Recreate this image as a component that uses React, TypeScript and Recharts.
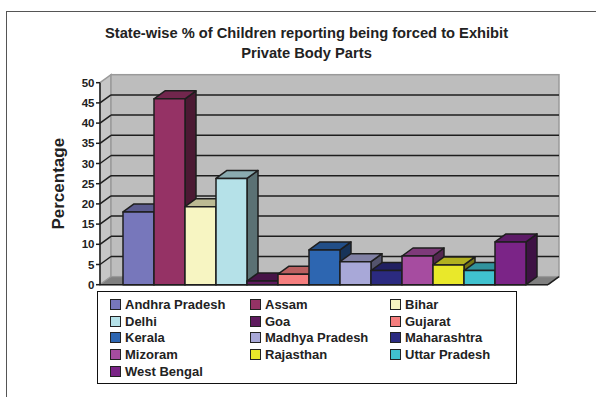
import React from 'react';
import { BarChart, Bar, XAxis, YAxis, Legend, ReferenceArea } from 'recharts';

const states = [
  'Andhra Pradesh', 'Assam', 'Bihar', 'Delhi', 'Goa', 'Gujarat', 'Kerala',
  'Madhya Pradesh', 'Maharashtra', 'Mizoram', 'Rajasthan', 'Uttar Pradesh', 'West Bengal',
];
const percentages = [18, 46, 19.3, 26.3, 0.9, 2.6, 8.6, 5.7, 3.5, 7.1, 4.9, 3.5, 10.6];
const colors = [
  '#7777BB', '#953265', '#F7F5C2', '#B5E1E8', '#5E1A5E', '#F57E7E', '#2D66B1',
  '#A8A8D8', '#2B2A80', '#A64CA0', '#E9E82A', '#40C2CF', '#7B2487',
];
const yTicks = [0, 5, 10, 15, 20, 25, 30, 35, 40, 45, 50];

const chartData = [
  states.reduce<Record<string, number | string>>(
    (row, _s, i) => {
      row[`s${i}`] = percentages[i];
      return row;
    },
    { group: 'States' }
  ),
];

const DX = 11;
const DY = -8;
const FONT = '"Liberation Sans", Arial, Helvetica, sans-serif';

const shade = (hex: string, f: number) => {
  const n = parseInt(hex.slice(1), 16);
  const r = Math.round(((n >> 16) & 255) * f);
  const g = Math.round(((n >> 8) & 255) * f);
  const b = Math.round((n & 255) * f);
  return `rgb(${r},${g},${b})`;
};

const Bar3D = (props: any) => {
  const { x, y, width: w, height: h, fill } = props;
  if (w == null || h == null) return null;
  const stroke = '#1e1e1e';
  return (
    <g strokeLinejoin="round">
      <polygon
        points={`${x + w},${y} ${x + w + DX},${y + DY} ${x + w + DX},${y + h + DY} ${x + w},${y + h}`}
        fill={shade(fill, 0.5)}
        stroke={stroke}
        strokeWidth={1.5}
      />
      <polygon
        points={`${x},${y} ${x + w},${y} ${x + w + DX},${y + DY} ${x + DX},${y + DY}`}
        fill={shade(fill, 0.76)}
        stroke={stroke}
        strokeWidth={1.5}
      />
      <rect x={x} y={y} width={w} height={h} fill={fill} stroke={stroke} strokeWidth={1.5} />
    </g>
  );
};

const Walls = (props: any) => {
  const { x, y, width: w, height: h } = props;
  const max = yTicks[yTicks.length - 1];
  const grid = yTicks.filter((t) => t > 0 && t < max);
  return (
    <g>
      <polygon
        points={`${x},${y} ${x + DX},${y + DY} ${x + DX},${y + h + DY} ${x},${y + h}`}
        fill="#C6C6C6"
        stroke="#9a9a9a"
        strokeWidth={1.5}
      />
      <rect x={x + DX} y={y + DY} width={w} height={h} fill="#BDBDBD" stroke="#9a9a9a" strokeWidth={1.5} />
      {grid.map((t) => {
        const gy = y + h - (t / max) * h;
        return (
          <g key={t} stroke="#1e1e1e" strokeWidth={1.5}>
            <line x1={x} y1={gy} x2={x + DX} y2={gy + DY} />
            <line x1={x + DX} y1={gy + DY} x2={x + w + DX} y2={gy + DY} />
          </g>
        );
      })}
      <polygon
        points={`${x},${y + h} ${x + DX},${y + h + DY} ${x + w + DX},${y + h + DY} ${x + w},${y + h}`}
        fill="#808080"
        stroke="#9a9a9a"
        strokeWidth={1}
      />
      <line x1={x} y1={y + h} x2={x + w} y2={y + h} stroke="#1e1e1e" strokeWidth={1.5} />
      <line x1={x + w} y1={y + h} x2={x + w + DX} y2={y + h + DY} stroke="#1e1e1e" strokeWidth={1.5} />
    </g>
  );
};

const LegendBox = () => (
  <div
    style={{
      boxSizing: 'border-box',
      width: 420,
      height: 93,
      border: '1.5px solid #111',
      paddingLeft: 12,
      paddingTop: 4,
      display: 'grid',
      gridTemplateColumns: 'repeat(3, 140px)',
      gridAutoRows: '16.75px',
      fontFamily: FONT,
      fontWeight: 'bold',
      fontSize: 13,
      color: '#222',
      background: '#fff',
    }}
  >
    {states.map((s, i) => (
      <div key={s} style={{ display: 'flex', alignItems: 'center', whiteSpace: 'nowrap' }}>
        <span
          style={{
            display: 'inline-block',
            boxSizing: 'border-box',
            width: 11,
            height: 11,
            background: colors[i],
            border: '1.5px solid #222',
            marginRight: 4,
          }}
        />
        {s}
      </div>
    ))}
  </div>
);

export default function App() {
  return (
    <div style={{ position: 'absolute', left: 0, top: 0, width: 596, height: 397, background: '#fff' }}>
      <div
        style={{
          position: 'absolute',
          left: 6,
          top: 10.5,
          width: 590,
          height: 387,
          borderTop: '1.5px solid #555',
          borderLeft: '1.5px solid #555',
        }}
      />
      <div
        style={{
          position: 'absolute',
          left: 0,
          top: 23,
          width: 613,
          textAlign: 'center',
          fontFamily: FONT,
          fontWeight: 'bold',
          fontSize: 14.7,
          lineHeight: '20px',
          color: '#222',
        }}
      >
        State-wise % of Children reporting being forced to Exhibit
        <br />
        Private Body Parts
      </div>
      <BarChart
        width={596}
        height={397}
        data={chartData}
        margin={{ top: 82.7, right: 48, bottom: 112.3, left: 16 }}
        barCategoryGap={23}
        barGap={0}
        style={{ position: 'absolute', left: 0, top: 0 }}
      >
        <XAxis dataKey="group" hide />
        <YAxis
          width={84}
          domain={[0, 50]}
          ticks={yTicks}
          interval={0}
          tickSize={4}
          tickMargin={1.5}
          axisLine={{ stroke: '#1e1e1e', strokeWidth: 1.5 }}
          tickLine={{ stroke: '#1e1e1e', strokeWidth: 1.5 }}
          tick={{ fill: '#222', fontSize: 11.5, fontWeight: 'bold', fontFamily: FONT }}
          label={{
            value: 'Percentage',
            angle: -90,
            position: 'center',
            style: { fill: '#222', fontSize: 17, fontWeight: 'bold', fontFamily: FONT },
          }}
        />
        <ReferenceArea y1={0} y2={50} shape={(p: any) => <Walls {...p} />} />
        {states.map((s, i) => (
          <Bar
            key={s}
            dataKey={`s${i}`}
            name={s}
            fill={colors[i]}
            shape={(p: any) => <Bar3D {...p} fill={colors[i]} />}
            isAnimationActive={false}
          />
        ))}
        <Legend
          layout="horizontal"
          verticalAlign="middle"
          align="center"
          wrapperStyle={{ left: 97, top: 291, width: 420, height: 93 }}
          content={() => <LegendBox />}
        />
      </BarChart>
    </div>
  );
}
